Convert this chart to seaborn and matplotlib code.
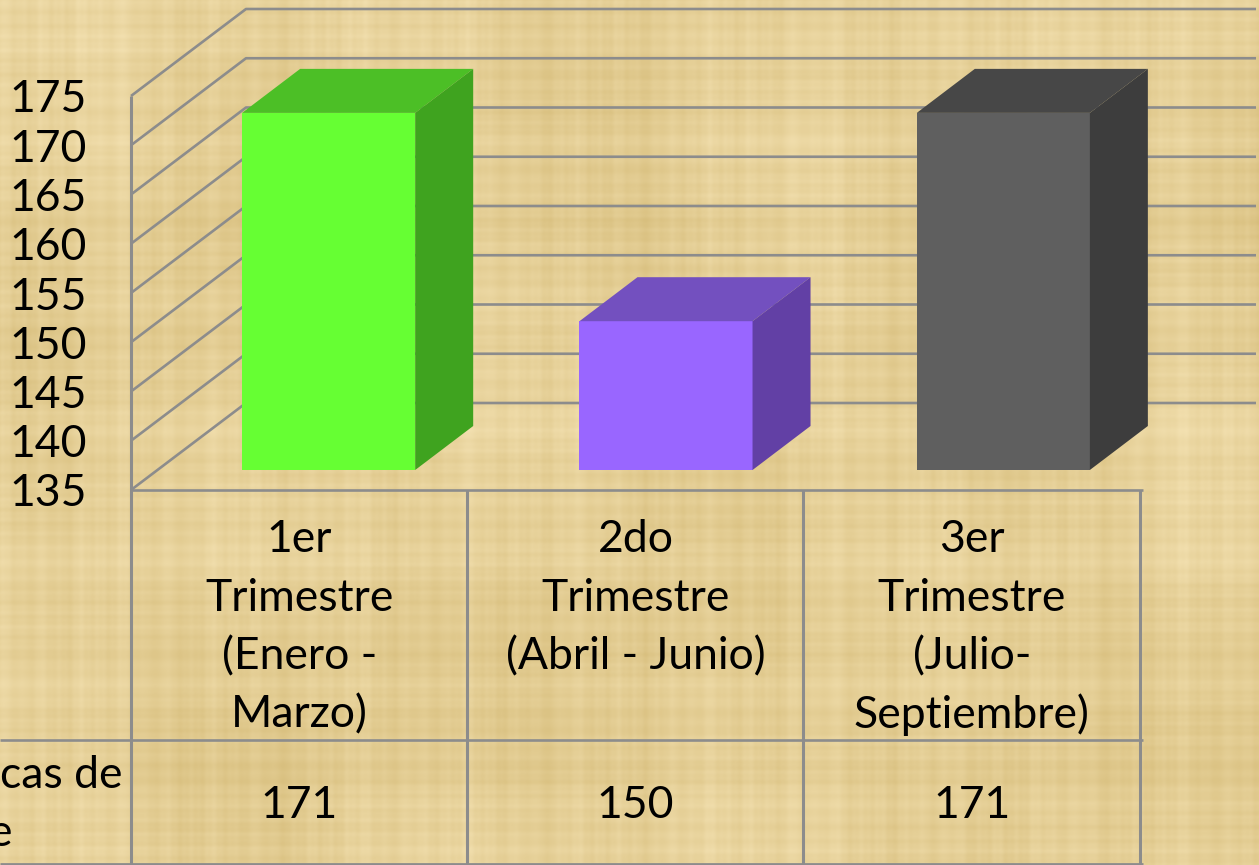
import numpy as np
import pandas as pd
import matplotlib
matplotlib.use("Agg")
import matplotlib.pyplot as plt
from matplotlib.patches import Polygon
from matplotlib.lines import Line2D
from matplotlib.transforms import IdentityTransform, blended_transform_factory
import seaborn as sns

categories = ["1er Trimestre", "2do Trimestre", "3er Trimestre"]
cell_lines = [["1er", "Trimestre", "(Enero -", "Marzo)"],
              ["2do", "Trimestre", "(Abril - Junio)"],
              ["3er", "Trimestre", "(Julio-", "Septiembre)"]]
values = [171, 150, 171]
y_ticks = [135, 140, 145, 150, 155, 160, 165, 170, 175]
row_label = ["cas de", "e"]
front_colors = ["#66FF33", "#9966FF", "#5F5F5F"]
top_colors = ["#4CBF26", "#7350BF", "#474747"]
side_colors = ["#3FA31F", "#6240A5", "#3D3D3D"]

W, H = 1259, 865
GRID = "#8C8C8C"
TEXT_SIZE = 32
sns.set_style("white")
plt.rcParams["font.family"] = ["Lato", "DejaVu Sans"]
plt.rcParams["text.color"] = "black"

fig = plt.figure(figsize=(W / 100, H / 100), dpi=100)


def axes_px(left, top, right, bottom, **kw):
    return fig.add_axes([left / W, 1 - bottom / H, (right - left) / W, (bottom - top) / H], **kw)


def line(xs, ys, lw=1.9, z=1):
    fig.add_artist(Line2D(xs, [H - v for v in ys], transform=IdentityTransform(),
                          color=GRID, lw=lw, zorder=z, solid_capstyle="butt"))


# Papyrus background: woven pattern of layered sines, with irregular fibre bands
bg = axes_px(0, 0, W, H, zorder=-5)
bg.axis("off")
yy, xx = np.mgrid[0:H, 0:W]
cols = (.6 * np.sin(xx * .83) * np.sin(xx * .0231 + yy * .004) + np.sin(xx * .31 + 2 * np.sin(xx * .019))
        + .8 * np.sin(xx * .137 + 1 + 3 * np.sin(xx * .0073)) + .7 * np.sin(xx * .053 + 2) + .9 * np.sin(xx * .0171))
rows = (.6 * np.sin(yy * .91) * np.sin(yy * .0277 + xx * .003) + np.sin(yy * .37 + 2 * np.sin(yy * .023))
        + .8 * np.sin(yy * .113 + 2 + 3 * np.sin(yy * .0061)) + .7 * np.sin(yy * .047 + .5) + .9 * np.sin(yy * .0143 + 1))
patch = np.sin(xx * .0071 + yy * .0113) + np.sin(xx * .0191 - yy * .0083 + 1)
tex = 0.5 * cols + 0.5 * rows + 0.5 * patch
tex = tex / np.abs(tex).max()
base = np.array([229, 207, 150])
img = base[None, None, :] + tex[..., None] * np.array([16, 20, 30])
bg.imshow(np.clip(img, 0, 255).astype(np.uint8), aspect="auto", interpolation="bilinear")

# Front plane: value axis and table
ax = axes_px(131, 96, 1140, 490, zorder=1)
ax.patch.set_alpha(0)
ax.set_ylim(135, 175)
ax.set_xlim(-0.5, 2.5)
ax.set_yticks(y_ticks)
ax.set_yticklabels([str(t) for t in y_ticks], fontsize=TEXT_SIZE, color="black")
ax.tick_params(axis="y", length=0, pad=32)
ax.set_xticks([])
for s in ax.spines.values():
    s.set_visible(False)

DX, DY = 115, 87
for t in y_ticks:
    _, yd = ax.transData.transform((0, t))
    yp = H - yd
    line([131, 131 + DX, 1256], [yp, yp - DY, yp - DY])

# Table grid
line([131, 131], [96, 865], lw=2.2)
for xp in [467, 803, 1140]:
    line([xp, xp], [490, 865], lw=2.2)
line([131, 1143], [490, 490])
line([0, 1143], [740, 740])
line([0, 1143], [864, 864], lw=2)

trans = blended_transform_factory(ax.transData, IdentityTransform())
for i, (lines_, v) in enumerate(zip(cell_lines, values)):
    for j, txt in enumerate(lines_):
        ax.text(i, H - (540 + j * 58.3), txt, transform=trans, ha="center", va="center",
                fontsize=TEXT_SIZE, color="black", clip_on=False)
    ax.text(i, H - 805, str(v), transform=trans, ha="center", va="center",
            fontsize=TEXT_SIZE, color="black", clip_on=False)
fig.text(122 / W, 1 - 775 / H, row_label[0], ha="right", va="center", fontsize=TEXT_SIZE, color="black")
fig.text(12 / W, 1 - 834 / H, row_label[1], ha="right", va="center", fontsize=TEXT_SIZE, color="black")

# Bars, on their own plane inside the 3-D depth
ax2 = axes_px(160, 470 - 40 * 9.92, 1172, 470, zorder=2)
ax2.patch.set_alpha(0)
df = pd.DataFrame({"Trimestre": categories, "Valor": values})
sns.barplot(data=df, x="Trimestre", y="Valor", hue="Trimestre", palette=front_colors,
            width=0.513, legend=False, saturation=1, linewidth=0, ax=ax2)
ax2.set_ylim(135, 175)
ax2.set_xlim(-0.5, 2.5)
ax2.axis("off")

BX, BY = 58, 44
fig.canvas.draw()
for bar, top, side in zip(ax2.patches, top_colors, side_colors):
    bar.set_edgecolor("none")
    x0, w, v = bar.get_x(), bar.get_width(), bar.get_height()
    (xl, yt) = ax2.transData.transform((x0, v))
    (xr, yb) = ax2.transData.transform((x0 + w, 135))
    ax2.add_patch(Polygon([(xl, yt), (xr, yt), (xr + BX, yt + BY), (xl + BX, yt + BY)],
                          transform=IdentityTransform(), fc=top, ec="none", zorder=3, clip_on=False))
    ax2.add_patch(Polygon([(xr, yb), (xr + BX, yb + BY), (xr + BX, yt + BY), (xr, yt)],
                          transform=IdentityTransform(), fc=side, ec="none", zorder=3, clip_on=False))

fig.savefig("out.png", dpi=100)
